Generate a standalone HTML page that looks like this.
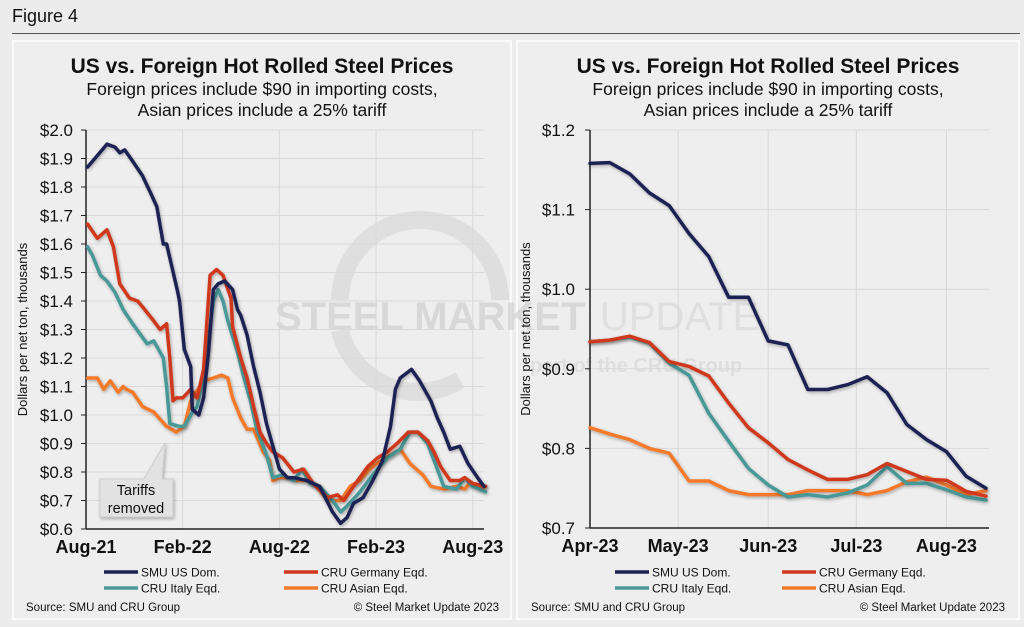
<!DOCTYPE html>
<html><head><meta charset="utf-8">
<style>
body{margin:0;width:1024px;height:627px;background:#ececec;font-family:"Liberation Sans",Arial,sans-serif;overflow:hidden;position:relative}
.fig{position:absolute;left:12px;top:6px;font-size:18px;color:#111}
.rule{position:absolute;left:12px;top:33px;width:1008px;height:1px;background:#555}
.panel{position:absolute;top:40px;height:580px;background:#eeeeee;border:2px solid #fafafa;box-sizing:border-box}
svg{position:absolute;left:0;top:0}
</style></head><body>
<div class="fig">Figure 4</div>
<div class="rule"></div>
<div class="panel" style="left:12px;width:500px"></div>
<div class="panel" style="left:516px;width:504px"></div>
<svg id="chart" width="1024" height="627"></svg>
<script>
// ---------- Left chart data (x in months since Aug-21) ----------
const leftTickLabels=["Aug-21","Feb-22","Aug-22","Feb-23","Aug-23"];
const leftTickMonths=[0,6,12,18,24];
const leftYTicks=[0.6,0.7,0.8,0.9,1.0,1.1,1.2,1.3,1.4,1.5,1.6,1.7,1.8,1.9,2.0];
const smuMonthsL=[0.1,0.7,1.3,1.8,2.1,2.4,2.9,3.5,4.0,4.4,4.8,5.0,5.7,5.8,6.1,6.5,6.6,7.0,7.3,7.6,7.9,8.2,8.6,9.1,9.4,9.6,10.0,10.4,10.8,11.2,11.6,12.0,12.5,12.9,13.7,14.5,15.3,15.8,16.2,16.6,17.2,17.8,18.4,18.9,19.2,19.5,20.2,20.7,21.4,21.8,22.2,22.6,23.2,23.7,24.3,24.7];
const smuValuesL=[1.87,1.91,1.95,1.94,1.92,1.93,1.89,1.84,1.78,1.73,1.60,1.60,1.43,1.40,1.23,1.17,1.02,1.00,1.06,1.22,1.44,1.46,1.47,1.44,1.37,1.35,1.28,1.17,1.08,0.97,0.89,0.81,0.78,0.78,0.77,0.75,0.66,0.62,0.64,0.69,0.71,0.77,0.84,0.96,1.09,1.13,1.16,1.12,1.05,0.99,0.94,0.88,0.89,0.83,0.78,0.75];
const gerMonthsL=[0.1,0.7,1.3,1.7,2.1,2.7,3.2,3.5,4.2,4.6,5.0,5.2,5.4,5.6,6.0,6.5,6.9,7.3,7.7,8.1,8.5,9.0,9.1,9.6,10.0,10.4,10.8,11.2,11.6,12.2,12.9,13.5,14.1,15.0,15.6,16.0,16.6,17.5,18.1,18.7,19.3,20.0,20.6,21.2,21.6,22.0,22.6,23.2,23.5,24.0,24.8];
const gerValuesL=[1.67,1.62,1.65,1.59,1.46,1.41,1.40,1.38,1.33,1.30,1.32,1.20,1.05,1.06,1.06,1.09,1.06,1.16,1.49,1.51,1.49,1.41,1.31,1.20,1.13,1.03,0.94,0.90,0.87,0.85,0.80,0.81,0.76,0.71,0.72,0.70,0.75,0.82,0.85,0.87,0.90,0.94,0.94,0.91,0.87,0.82,0.77,0.77,0.78,0.76,0.75];
const itaMonthsL=[0.1,0.4,0.9,1.3,1.8,2.3,2.9,3.8,4.2,4.8,5.0,5.2,5.8,6.1,6.6,6.9,7.4,7.9,8.2,8.5,8.8,9.4,9.8,10.2,10.6,11.2,11.6,12.2,12.9,13.4,13.9,14.5,15.3,15.8,16.2,17.0,17.8,18.7,19.5,20.1,20.6,21.2,21.8,22.2,23.0,23.5,24.0,24.8];
const itaValuesL=[1.59,1.56,1.49,1.47,1.43,1.37,1.32,1.25,1.26,1.20,1.10,0.97,0.96,0.96,1.01,1.03,1.17,1.40,1.44,1.40,1.33,1.22,1.13,1.05,0.95,0.86,0.78,0.79,0.77,0.81,0.76,0.75,0.70,0.66,0.68,0.73,0.79,0.85,0.88,0.94,0.94,0.90,0.81,0.75,0.74,0.78,0.75,0.73];
const asiMonthsL=[0.1,0.7,1.1,1.5,2.0,2.3,2.5,2.9,3.5,4.2,5.0,5.6,6.1,6.5,6.6,7.3,7.9,8.4,8.8,9.1,9.6,10.0,10.4,11.0,11.4,11.6,12.0,12.7,13.1,13.7,14.3,15.0,15.8,16.4,17.0,17.6,18.3,18.9,19.5,20.1,20.9,21.4,22.2,23.0,23.5,23.8,24.5,24.8];
const asiValuesL=[1.13,1.13,1.09,1.12,1.08,1.10,1.09,1.08,1.03,1.01,0.96,0.94,0.96,1.05,1.06,1.12,1.13,1.14,1.13,1.06,0.99,0.95,0.95,0.87,0.84,0.77,0.78,0.78,0.77,0.77,0.75,0.70,0.70,0.75,0.77,0.81,0.84,0.86,0.88,0.83,0.79,0.75,0.74,0.75,0.74,0.76,0.74,0.75];

// ---------- Right chart data (x = weekly index since Apr-23) ----------
const rightTickLabels=["Apr-23","May-23","Jun-23","Jul-23","Aug-23"];
const rightTickWeeks=[0,4.45,9.0,13.45,18.0];
const rightYTicks=[0.7,0.8,0.9,1.0,1.1,1.2];
const smuValuesR=[1.158,1.159,1.145,1.121,1.105,1.07,1.041,0.99,0.99,0.935,0.93,0.874,0.874,0.88,0.89,0.87,0.83,0.811,0.796,0.765,0.75];
const gerValuesR=[0.934,0.936,0.941,0.933,0.909,0.903,0.891,0.857,0.826,0.807,0.786,0.773,0.761,0.761,0.767,0.781,0.771,0.761,0.76,0.746,0.74];
const itaValuesR=[0.934,0.936,0.94,0.932,0.907,0.892,0.844,0.809,0.775,0.754,0.739,0.742,0.739,0.744,0.754,0.777,0.756,0.756,0.748,0.739,0.735];
const asiValuesR=[0.826,0.818,0.811,0.8,0.794,0.759,0.759,0.747,0.742,0.742,0.742,0.747,0.747,0.747,0.742,0.747,0.758,0.764,0.754,0.742,0.747];

const C={smu:"#1c2052",ger:"#d0381f",ita:"#4a9898",asi:"#f47a2c"};
const NS="http://www.w3.org/2000/svg";
const svg=document.getElementById("chart");
function mk(tag,attrs,parent){const e=document.createElementNS(NS,tag);for(const k in attrs)e.setAttribute(k,attrs[k]);(parent||svg).appendChild(e);return e;}

const defs=mk("defs",{});
const f=mk("filter",{id:"sh",x:"-10%",y:"-10%",width:"120%",height:"120%"},defs);
mk("feDropShadow",{dx:"1",dy:"1.5",stdDeviation:"1.5","flood-color":"#000","flood-opacity":"0.3"},f);

const wm=mk("g",{opacity:"0.5"});


mk("path",{d:"M340 300 A80 80 0 0 1 500 300",fill:"none",stroke:"#cfcfcf","stroke-width":"18"},wm);
mk("path",{d:"M340 330 A80 80 0 0 0 460 380",fill:"none",stroke:"#cfcfcf","stroke-width":"18"},wm);
const wt=mk("text",{x:"275",y:"330","font-size":"40","font-weight":"bold",fill:"#c4c4c4","font-family":"Liberation Sans, sans-serif"},wm);
wt.textContent="STEEL MARKET";
const wt2=mk("text",{x:"600",y:"330","font-size":"40",fill:"#d2d2d2","font-family":"Liberation Sans, sans-serif"},wm);
wt2.textContent="UPDATE";
const wt3=mk("text",{x:"530",y:"372","font-size":"20","font-weight":"bold",fill:"#cfcfcf","font-family":"Liberation Sans, sans-serif"},wm);
wt3.textContent="part of the CRU Group";

function drawChart(o){
  const g=mk("g",{});
  
  
  const xS=v=>o.x0+(v-o.xmin)/(o.xmax-o.xmin)*(o.x1-o.x0);
  const yS=v=>o.y1-(v-o.ymin)/(o.ymax-o.ymin)*(o.y1-o.y0);
  const t=mk("text",{x:o.cx,y:o.ty,"text-anchor":"middle","font-size":"21","font-weight":"bold",fill:"#111"},g);
  t.textContent="US vs. Foreign Hot Rolled Steel Prices";
  
  
  const s1=mk("text",{x:o.cx,y:o.ty+22,"text-anchor":"middle","font-size":"17.5",fill:"#111"},g);
  s1.textContent="Foreign prices include $90 in importing costs,";
  
  
  const s2=mk("text",{x:o.cx,y:o.ty+43,"text-anchor":"middle","font-size":"17.5",fill:"#111"},g);
  s2.textContent="Asian prices include a 25% tariff";
  
  
  o.yTicks.forEach(v=>{
    const y=yS(v);
    const gl=mk("line",{x1:o.x0,x2:o.x1,y1:y,y2:y,stroke:"#d9d9d9","stroke-width":"1"},g);
    
    
    mk("line",{x1:o.x0-5,x2:o.x0,y1:y,y2:y,stroke:"#222","stroke-width":"1"},g);
    const lb=mk("text",{x:o.x0-o.yoff,y:y+6,"text-anchor":"end","font-size":"17",fill:"#111"},g);
    lb.textContent="$"+v.toFixed(1);
    
    
  });
  o.xTicks.forEach((v,i)=>{
    const x=xS(v);
    if(i>0){const gl=mk("line",{x1:x,x2:x,y1:o.y0,y2:o.y1,stroke:"#d9d9d9","stroke-width":"1"},g);
      
      }
    const lb=mk("text",{x:x,y:o.y1+24,"text-anchor":"middle","font-size":o.xfs,"font-weight":"bold",fill:"#111"},g);
    lb.textContent=o.xLabels[i];
    
    
  });
  mk("line",{x1:o.x0,x2:o.x0,y1:o.y0,y2:o.y1,stroke:"#222","stroke-width":"1.5"},g);
  mk("line",{x1:o.x0,x2:o.x1,y1:o.y1,y2:o.y1,stroke:"#222","stroke-width":"1.5"},g);
  const yl=mk("text",{transform:`translate(${o.ylx},${(o.y0+o.y1)/2}) rotate(-90)`,"text-anchor":"middle","font-size":"13",fill:"#111"},g);
  yl.textContent="Dollars per net ton, thousands";
  
  
  o.series.forEach(s=>{
    let d="";
    for(let i=0;i<Math.min(s.xs.length,s.vs.length);i++){d+=(i?"L":"M")+xS(s.xs[i]).toFixed(1)+" "+yS(s.vs[i]).toFixed(1);}
    const p=mk("path",{d:d,fill:"none",stroke:s.c,"stroke-width":"3.5","stroke-linejoin":"round","stroke-linecap":"round",filter:"url(#sh)"},g);
    
    
  });
  const leg=[["SMU US Dom.",C.smu,0,0],["CRU Germany Eqd.",C.ger,1,0],["CRU Italy Eqd.",C.ita,0,1],["CRU Asian Eqd.",C.asi,1,1]];
  leg.forEach(l=>{
    const lx=o.lgx[l[2]],ly=o.lgy+l[3]*16;
    const e=mk("g",{},g);
    
    
    mk("line",{x1:lx,x2:lx+34,y1:ly,y2:ly,stroke:l[1],"stroke-width":"3.5"},e);
    const tx=mk("text",{x:lx+37,y:ly+4.5,"font-size":"12",fill:"#111"},e);
    tx.textContent=l[0];
  });
  const src=mk("text",{x:o.srcx,y:611,"font-size":"11.5",fill:"#111"},g);
  src.textContent="Source: SMU and CRU Group";
  
  
  const cp=mk("text",{x:o.cpx,y:611,"text-anchor":"end","font-size":"11.5",fill:"#111"},g);
  cp.textContent="© Steel Market Update 2023";
  
  
  return {xS,yS,g};
}

const L=drawChart({name:"left-chart",cx:262,ty:73,x0:86,x1:484,xmin:0,xmax:24.7,y0:130,y1:529,ymin:0.6,ymax:2.0,yoff:13,
  xTicks:leftTickMonths,xLabels:leftTickLabels,yTicks:leftYTicks,xfs:"18",ylx:27,lgx:[104,284],lgy:572,srcx:26,cpx:499,
  series:[{n:"series-asian",c:C.asi,xs:asiMonthsL,vs:asiValuesL},{n:"series-italy",c:C.ita,xs:itaMonthsL,vs:itaValuesL},
          {n:"series-germany",c:C.ger,xs:gerMonthsL,vs:gerValuesL},{n:"series-smu",c:C.smu,xs:smuMonthsL,vs:smuValuesL}]});
const wk=smuValuesR.map((_,i)=>i);
const R=drawChart({name:"right-chart",cx:768,ty:73,x0:590,x1:989,xmin:0,xmax:20.15,y0:130,y1:528,ymin:0.7,ymax:1.2,yoff:15,
  xTicks:rightTickWeeks,xLabels:rightTickLabels,yTicks:rightYTicks,xfs:"18",ylx:530,lgx:[615,782],lgy:572,srcx:531,cpx:1005,
  series:[{n:"series-asian",c:C.asi,xs:wk,vs:asiValuesR},{n:"series-italy",c:C.ita,xs:wk,vs:itaValuesR},
          {n:"series-germany",c:C.ger,xs:wk,vs:gerValuesR},{n:"series-smu",c:C.smu,xs:wk,vs:smuValuesR}]});

const co=mk("g",{filter:"url(#sh)"});


mk("path",{d:"M100 479 L144 479 L165 443 L162 479 L173 479 L173 517 L100 517 Z",fill:"#e2e2e2",stroke:"#cfcfcf","stroke-width":"1"},co);
const c1=mk("text",{x:136,y:495,"text-anchor":"middle","font-size":"14.5",fill:"#111"},co);c1.textContent="Tariffs";
const c2=mk("text",{x:136,y:513,"text-anchor":"middle","font-size":"14.5",fill:"#111"},co);c2.textContent="removed";
</script>
</body></html>
